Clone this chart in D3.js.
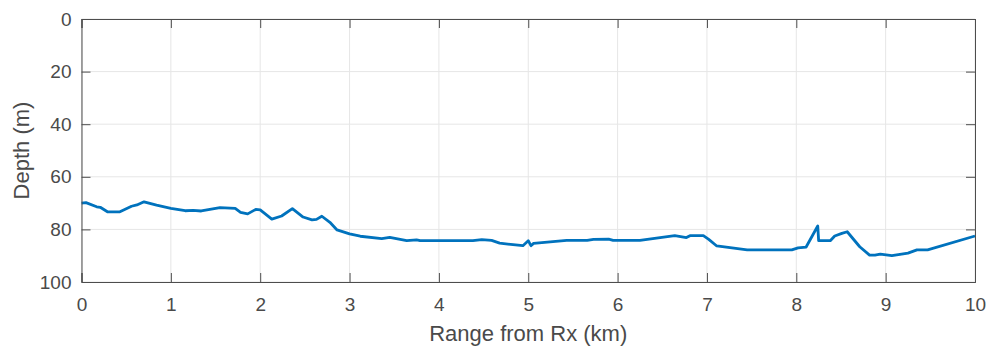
<!DOCTYPE html>
<html>
<head>
<meta charset="utf-8">
<script src="https://cdn.jsdelivr.net/npm/d3@7/dist/d3.min.js"></script>
<style>
  html, body { margin: 0; padding: 0; background: #ffffff; }
  svg { display: block; }
  text { font-family: "Liberation Sans", Arial, Helvetica, sans-serif; }
</style>
</head>
<body>
<svg id="chart" width="992" height="348"></svg>
<script>
// Seabed depth profile along the track, range in km
const rangeKm = [0, 0.05, 0.17, 0.21, 0.29, 0.43, 0.56, 0.62, 0.70, 0.84, 1.0, 1.16, 1.25, 1.34,
  1.55, 1.72, 1.78, 1.86, 1.95, 2.0, 2.13, 2.24, 2.36, 2.48, 2.58, 2.63, 2.69, 2.78, 2.86,
  3.0, 3.12, 3.36, 3.45, 3.64, 3.75, 3.79, 4.38, 4.48, 4.59, 4.68, 4.83, 4.94, 5.0, 5.03,
  5.06, 5.43, 5.66, 5.73, 5.90, 5.95, 6.25, 6.64, 6.77, 6.81, 6.96, 7.02, 7.11, 7.45, 7.95,
  8.02, 8.11, 8.24, 8.25, 8.38, 8.43, 8.51, 8.57, 8.71, 8.82, 8.88, 8.94, 9.07, 9.25, 9.35,
  9.47, 10.0];
const depthM = [70, 69.8, 71.4, 71.6, 73.3, 73.3, 71.2, 70.7, 69.5, 70.8, 72, 72.9, 72.8, 73,
  71.7, 72, 73.5, 74.1, 72.4, 72.6, 76.1, 74.9, 72.1, 75.3, 76.4, 76.2, 75.0, 77.3, 80.2,
  81.7, 82.6, 83.5, 83.0, 84.3, 84.0, 84.3, 84.3, 83.9, 84.2, 85.2, 85.8, 86.2, 84.3, 86.2,
  85.3, 84.2, 84.2, 83.8, 83.7, 84.2, 84.2, 82.4, 83.1, 82.4, 82.4, 83.8, 86.3, 87.8, 87.8,
  87.0, 86.7, 78.7, 84.3, 84.3, 82.5, 81.5, 80.9, 86.6, 89.8, 89.8, 89.4, 90.0, 89.0, 87.8,
  87.8, 82.5];

const xTicks = [0, 1, 2, 3, 4, 5, 6, 7, 8, 9, 10];
const yTicks = [0, 20, 40, 60, 80, 100];
const xLabel = "Range from Rx (km)";
const yLabel = "Depth (m)";

const svg = d3.select("#chart");
const plotLeft = 81.5, plotRight = 975, plotTop = 19, plotBottom = 282;

const x = d3.scaleLinear().domain([0, 10]).range([plotLeft, plotRight]);
const y = d3.scaleLinear().domain([0, 100]).range([plotTop, plotBottom]);

const axisColor = "#4d4d4d";
const textColor = "#4a4a4a";
const gridColor = "#e6e6e6";

// grid
const grid = svg.append("g");
grid.selectAll("line.gx").data(xTicks).join("line")
  .attr("x1", d => x(d)).attr("x2", d => x(d))
  .attr("y1", plotTop).attr("y2", plotBottom)
  .attr("stroke", gridColor).attr("stroke-width", 1);
grid.selectAll("line.gy").data(yTicks).join("line")
  .attr("x1", plotLeft).attr("x2", plotRight)
  .attr("y1", d => y(d)).attr("y2", d => y(d))
  .attr("stroke", gridColor).attr("stroke-width", 1);

// depth line
const line = d3.line().x((d, i) => x(rangeKm[i])).y(d => y(d));
svg.append("path")
  .datum(depthM)
  .attr("d", line)
  .attr("fill", "none")
  .attr("stroke", "#0072BD")
  .attr("stroke-width", 2.8)
  .attr("stroke-linejoin", "round");

// axes with inward ticks on all four sides (box)
const tickLen = 9;
const fmt = d3.format("d");
const axB = d3.axisBottom(x).tickValues(xTicks).tickSize(-tickLen).tickPadding(16).tickFormat(fmt);
const axT = d3.axisTop(x).tickValues(xTicks).tickSize(-tickLen).tickFormat("");
const axL = d3.axisLeft(y).tickValues(yTicks).tickSize(-tickLen).tickPadding(10).tickFormat(fmt);
const axR = d3.axisRight(y).tickValues(yTicks).tickSize(-tickLen).tickFormat("");

function style(g) {
  g.select(".domain").attr("stroke", axisColor).attr("stroke-width", 1);
  g.selectAll(".tick line").attr("stroke", axisColor).attr("stroke-width", 1);
  g.selectAll(".tick text").attr("fill", textColor).attr("font-size", 19)
    .style("font-family", "'Liberation Sans', Arial, sans-serif");
}

svg.append("g").attr("transform", `translate(0,${plotBottom})`).call(axB).call(style);
svg.append("g").attr("transform", `translate(0,${plotTop})`).call(axT).call(style);
svg.append("g").attr("transform", `translate(${plotLeft},0)`).call(axL).call(style);
svg.append("g").attr("transform", `translate(${plotRight},0)`).call(axR).call(style);

// axis titles
svg.append("text")
  .attr("x", (plotLeft + plotRight) / 2).attr("y", 341)
  .attr("text-anchor", "middle")
  .attr("fill", textColor).attr("font-size", 22)
  .text(xLabel);
svg.append("text")
  .attr("transform", `translate(28.5,${(plotTop + plotBottom) / 2}) rotate(-90)`)
  .attr("text-anchor", "middle")
  .attr("fill", textColor).attr("font-size", 22)
  .text(yLabel);
</script>
</body>
</html>
